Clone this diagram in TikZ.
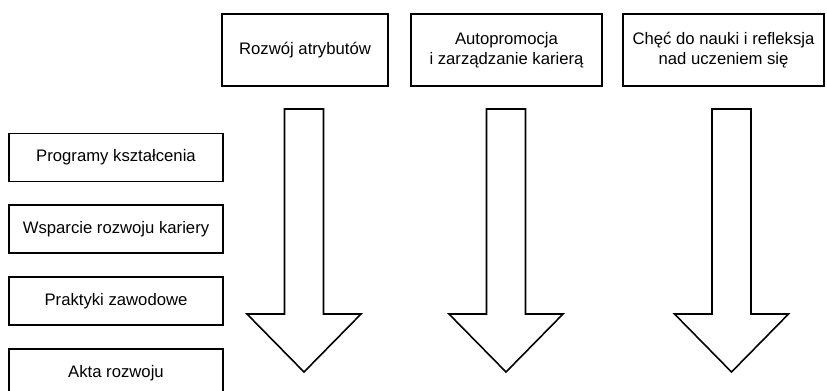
\documentclass[tikz,border=0pt]{standalone}
\usepackage{fontspec}
\setmainfont{Liberation Sans}
\usepackage{tikz}

\begin{document}
\begin{tikzpicture}[x=0.02cm, y=-0.02cm,
    box/.style={draw, line width=0.9pt, inner sep=0pt, align=center,
        font=\fontsize{9.5}{11.5}\selectfont}]
    \useasboundingbox (0,0) rectangle (827,390);

    \node[box, minimum width=3.32cm, minimum height=1.44cm] at (305, 50) (attr) {Rozwój atrybutów};
    \node[box, minimum width=3.82cm, minimum height=1.44cm] at (506.5, 50) (promo) {Autopromocja\\i zarządzanie karierą};
    \node[box, minimum width=4.02cm, minimum height=1.44cm] at (723.5, 50) (learn) {Chęć do nauki i refleksja\\nad uczeniem się};

    \node[box, minimum width=4.27cm, minimum height=0.96cm] at (116, 157.5) (prog) {Programy kształcenia};
    \node[box, minimum width=4.27cm, minimum height=0.96cm] at (116, 229) (support) {Wsparcie rozwoju kariery};
    \node[box, minimum width=4.27cm, minimum height=0.96cm] at (116, 301) (practice) {Praktyki zawodowe};
    \node[box, minimum width=4.27cm, minimum height=0.96cm] at (116, 373) (acts) {Akta rozwoju};

    \foreach \x in {304, 506, 731.5}
        \draw[line width=0.9pt] (\x-19.5,109) -- (\x+19.5,109) -- (\x+19.5,314) -- (\x+57,314)
            -- (\x,372) -- (\x-57,314) -- (\x-19.5,314) -- cycle;
\end{tikzpicture}
\end{document}
